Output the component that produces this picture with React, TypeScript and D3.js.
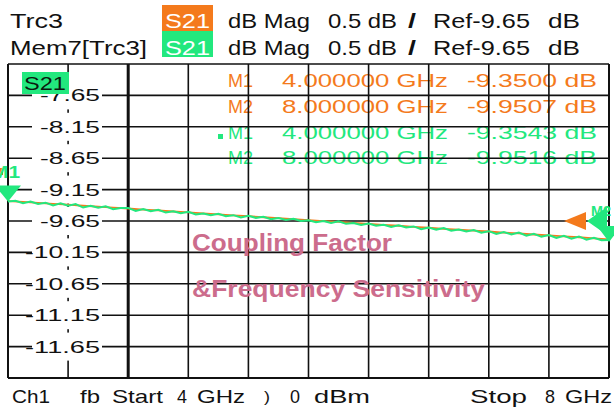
import React, { useEffect, useRef } from "react";
import * as d3 from "d3";

const W = 614;
const H = 407;

const fStart = 4;
const fStop = 8;
const yTop = -7.15;
const yBottom = -12.15;
const yTickValues = [-7.65, -8.15, -8.65, -9.15, -9.65, -10.15, -10.65, -11.15, -11.65];

// Mem7[Trc3] trace, one point every 50 MHz from 4 to 8 GHz
const memTrace = [
  -9.34, -9.328, -9.367, -9.339, -9.379, -9.358, -9.402, -9.369, -9.405, -9.381,
  -9.436, -9.408, -9.44, -9.415, -9.463, -9.442, -9.442, -9.49, -9.461, -9.493,
  -9.473, -9.516, -9.496, -9.527, -9.503, -9.547, -9.53, -9.558, -9.534, -9.573,
  -9.557, -9.593, -9.568, -9.6, -9.583, -9.623, -9.603, -9.634, -9.614, -9.65,
  -9.637, -9.669, -9.649, -9.68, -9.656, -9.695, -9.683, -9.715, -9.69, -9.726,
  -9.71, -9.745, -9.717, -9.752, -9.736, -9.78, -9.755, -9.787, -9.763, -9.806,
  -9.786, -9.818, -9.793, -9.837, -9.812, -9.856, -9.824, -9.863, -9.835, -9.883,
  -9.854, -9.902, -9.874, -9.921, -9.885, -9.932, -9.896, -9.948, -9.919, -9.955,
  -9.954,
];

// Trc3 trace, one point every 100 MHz
const trcTrace = [
  -9.332, -9.347, -9.36, -9.377, -9.39, -9.407, -9.421, -9.438, -9.451, -9.468,
  -9.482, -9.499, -9.512, -9.529, -9.543, -9.56, -9.573, -9.59, -9.604, -9.621,
  -9.636, -9.652, -9.665, -9.682, -9.695, -9.713, -9.726, -9.743, -9.756, -9.774,
  -9.787, -9.804, -9.817, -9.835, -9.848, -9.865, -9.879, -9.896, -9.909, -9.927,
  -9.944,
];

const markerNames = ["M1", "M2", "M1", "M2"];
const markerFreqs = ["4.000000 GHz", "8.000000 GHz", "4.000000 GHz", "8.000000 GHz"];
const markerValues = ["-9.3500 dB", "-9.9507 dB", "-9.3543 dB", "-9.9516 dB"];

const ORANGE = "#f47a1c";
const GREEN = "#22e87e";
const PINK = "#cc6c8c";
const FONT = "'Liberation Sans', Arial, sans-serif";

export default function App() {
  const ref = useRef<SVGSVGElement>(null);

  useEffect(() => {
    const svg = d3.select(ref.current);
    svg.selectAll("*").remove();

    const x = d3.scaleLinear().domain([fStart, fStop]).range([8, 609]);
    const y = d3.scaleLinear().domain([yBottom, yTop]).range([378, 64]);

    svg.append("rect").attr("width", W).attr("height", H).attr("fill", "#fff");

    const txt = (
      s: string, x0: number, yb: number, len: number,
      size: number, fill = "#111", weight = "normal"
    ) =>
      svg.append("text")
        .attr("x", x0).attr("y", yb)
        .attr("font-family", FONT).attr("font-size", size)
        .attr("font-weight", weight).attr("fill", fill)
        .attr("textLength", len).attr("lengthAdjust", "spacingAndGlyphs")
        .text(s);

    // header
    svg.append("rect").attr("x", 162).attr("y", 5).attr("width", 51).attr("height", 26).attr("fill", ORANGE);
    svg.append("rect").attr("x", 162).attr("y", 31).attr("width", 51).attr("height", 26).attr("fill", GREEN);
    [28, 55].forEach((yb, i) => {
      txt(i === 0 ? "Trc3" : "Mem7[Trc3]", 10, yb, i === 0 ? 53 : 137, 21);
      txt("S21", 165, yb, 45, 21, "#fff");
      txt("dB Mag", 228, yb, 82, 21);
      txt("0.5 dB", 328, yb, 69, 21);
      txt("/", 408, yb, 8, 21, "#111", "bold");
      txt("Ref-9.65", 433, yb, 97, 21);
      txt("dB", 548, yb, 32, 21);
    });

    // marker table (drawn under the grid)
    const rowY = [87, 113, 139, 164];
    markerNames.forEach((m, i) => {
      const c = i < 2 ? ORANGE : GREEN;
      txt(m, 228, rowY[i], 25, 19, c);
      txt(markerFreqs[i], 282, rowY[i], 166, 19, c);
      txt(markerValues[i], 467, rowY[i], 130, 19, c);
    });
    svg.append("rect").attr("x", 218).attr("y", 134).attr("width", 5).attr("height", 5).attr("fill", GREEN);

    // grid
    const g = svg.append("g").attr("stroke", "#111");
    d3.range(0, 11).forEach((i) => {
      const fx = fStart + (i * (fStop - fStart)) / 10;
      g.append("line")
        .attr("x1", x(fx)).attr("x2", x(fx)).attr("y1", 64).attr("y2", 378)
        .attr("stroke-width", i === 2 ? 3 : i === 0 || i === 10 ? 2 : 1.6);
      const v = yTop - i * 0.5;
      g.append("line")
        .attr("x1", 8).attr("x2", 609).attr("y1", y(v)).attr("y2", y(v))
        .attr("stroke-width", i === 10 ? 2 : 1.6);
    });

    // y tick labels
    yTickValues.forEach((v) => {
      const s = v.toFixed(2);
      const len = 60 + 15 * (s.length - 5);
      svg.append("rect").attr("x", 32).attr("y", y(v) - 14).attr("width", 70).attr("height", 28).attr("fill", "#fff");
      txt(s, 100 - len, y(v) + 6, len, 17);
    });

    // S21 trace label
    svg.append("rect").attr("x", 22).attr("y", 72).attr("width", 47).attr("height", 22).attr("fill", GREEN);
    txt("S21", 24, 90, 42, 19, "#0a1a10");

    // traces
    const lineTrc = d3.line<number>()
      .x((_, i) => x(fStart + i * 0.1))
      .y((d) => y(d));
    const lineMem = d3.line<number>()
      .x((_, i) => x(fStart + i * 0.05))
      .y((d) => y(d));
    svg.append("path").attr("d", lineTrc(trcTrace)).attr("fill", "none").attr("stroke", ORANGE).attr("stroke-width", 1.8);
    svg.append("path").attr("d", lineMem(memTrace)).attr("fill", "none").attr("stroke", GREEN).attr("stroke-width", 2);

    // markers
    const mx1 = x(fStart);
    const my1 = y(memTrace[0]);
    svg.append("path")
      .attr("d", `M${mx1 - 13},${my1 - 16}L${mx1 + 13},${my1 - 16}L${mx1},${my1}Z`)
      .attr("fill", GREEN);
    svg.append("rect").attr("x", 0).attr("y", 168).attr("width", 3).attr("height", 7).attr("fill", ORANGE);
    txt("M1", -9, 178, 29, 17, GREEN, "bold");

    const mx2 = x(fStop);
    const my2 = y(memTrace[memTrace.length - 1]);
    const yRef = y(-9.65);
    svg.append("path")
      .attr("d", `M${mx2 - 45},${yRef}L${mx2 - 23},${yRef - 9}L${mx2 - 23},${yRef + 9}Z`)
      .attr("fill", ORANGE);
    svg.append("path")
      .attr("d", `M${mx2 - 22},${yRef}L${mx2 - 2},${yRef - 14}L${mx2 - 2},${yRef + 14}Z`)
      .attr("fill", GREEN);
    svg.append("path")
      .attr("d", `M${mx2 - 12},${my2 - 14}L${mx2 + 12},${my2 - 14}L${mx2},${my2 + 2}Z`)
      .attr("fill", GREEN);
    txt("M2", 591, 216, 20, 14, GREEN, "bold");

    // annotation
    txt("Coupling Factor", 192, 251, 200, 24, PINK, "bold");
    txt("&Frequency Sensitivity", 192, 297, 293, 24, PINK, "bold");

    // footer
    const fy = 403;
    txt("Ch1", 12, fy, 38, 19);
    txt("fb", 80, fy, 20, 19);
    txt("Start", 112, fy, 51, 19);
    txt("4", 177, fy, 10, 19);
    txt("GHz", 197, fy, 48, 19);
    txt(")", 264, fy - 1, 6, 14);
    txt("0", 290, fy, 10, 19);
    txt("dBm", 314, fy, 56, 19);
    txt("Stop", 470, fy, 57, 19);
    txt("8", 545, fy, 10, 19);
    txt("GHz", 565, fy, 47, 19);
  }, []);

  return (
    <svg
      ref={ref}
      width={W}
      height={H}
      style={{ position: "absolute", left: 0, top: 0, display: "block" }}
    />
  );
}
